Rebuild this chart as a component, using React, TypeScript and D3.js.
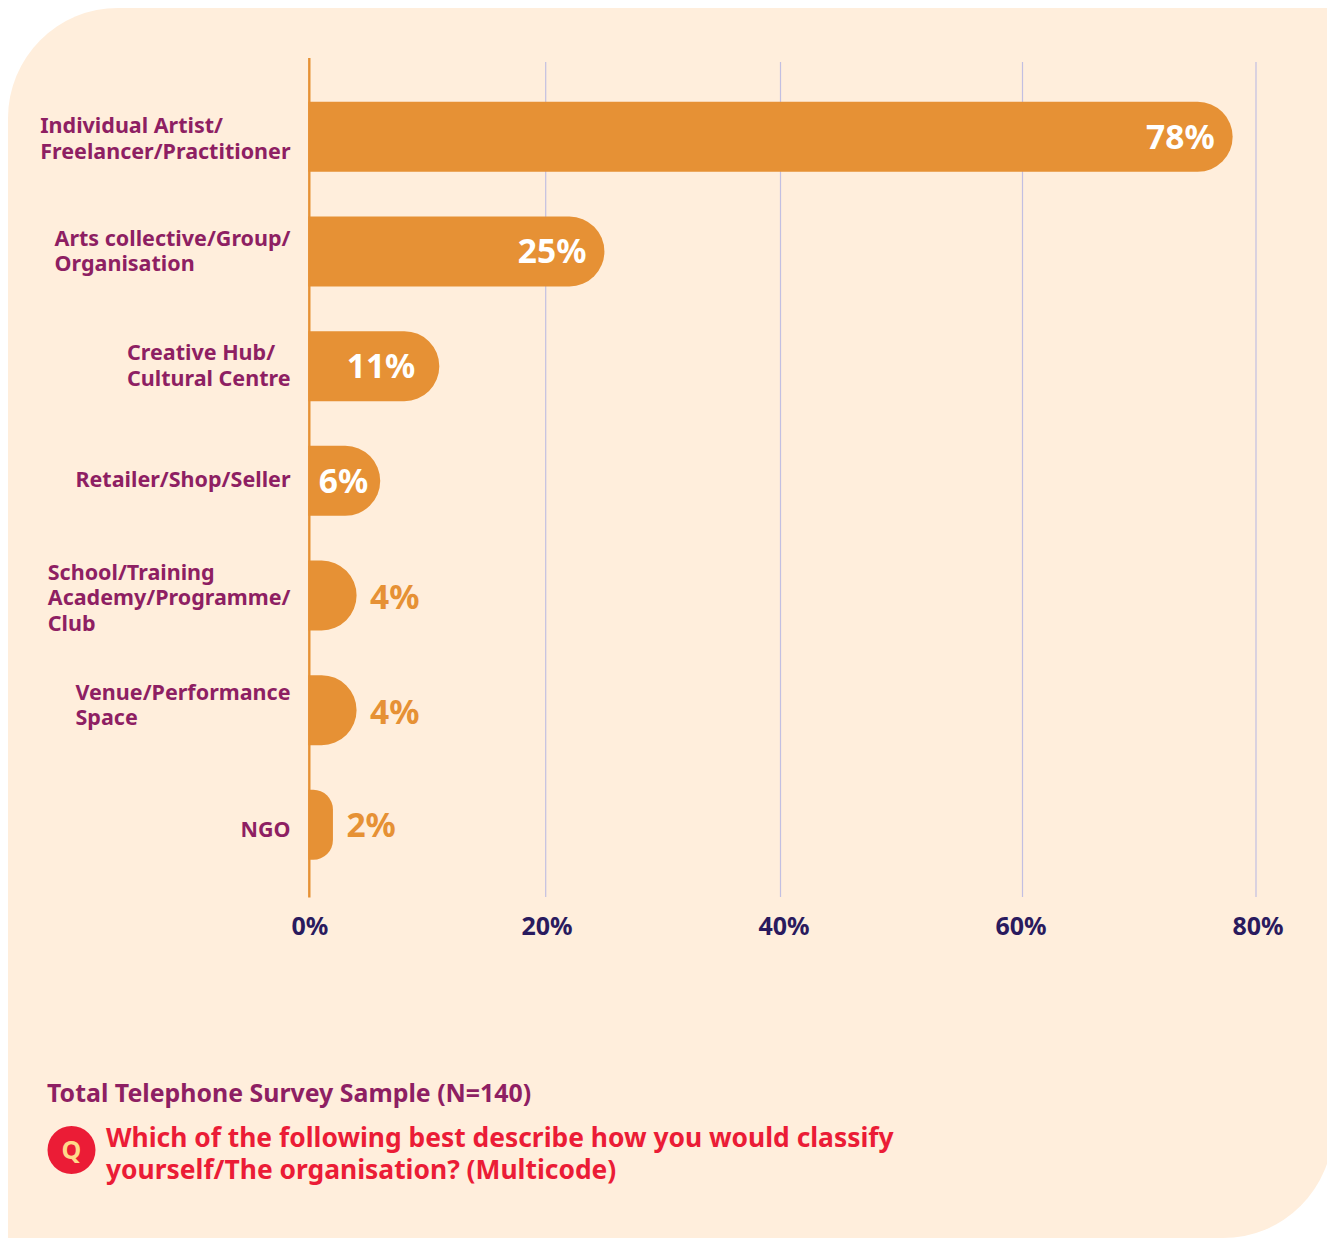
import React, { useEffect, useRef } from "react";
import * as d3 from "d3";

const categories = [
  "Individual Artist/|Freelancer/Practitioner",
  "Arts collective/Group/|Organisation",
  "Creative Hub/|Cultural Centre",
  "Retailer/Shop/Seller",
  "School/Training|Academy/Programme/|Club",
  "Venue/Performance|Space",
  "NGO",
];
const shares = [78, 25, 11, 6, 4, 4, 2];
const axisTicks = [0, 20, 40, 60, 80];
const sampleNote = "Total Telephone Survey Sample (N=140)";
const questionLines = [
  "Which of the following best describe how you would classify",
  "yourself/The organisation? (Multicode)",
];

const WIDTH = 1327;
const HEIGHT = 1238;
const FONT = "'Noto Sans', sans-serif";
const PANEL = "#FFEEDC";
const BAR = "#E69135";
const PLUM = "#8E1F63";
const NAVY = "#2A1A5E";
const RED = "#EB1C36";
const GRID = "#C2BFE2";

// Baseline corrections for the category labels, row by row.
const labelShift = [1, -1, -1, -2, 2, -5.5, 4];

function barPath(x0: number, x1: number, y: number, h: number) {
  const w = x1 - x0;
  const r = Math.min(h / 2, w * 0.8);
  return `M${x0},${y}H${x1 - r}A${r},${r} 0 0 1 ${x1},${y + r}V${y + h - r}A${r},${r} 0 0 1 ${x1 - r},${y + h}H${x0}Z`;
}

export default function App() {
  const ref = useRef<SVGSVGElement>(null);

  useEffect(() => {
    const svg = d3.select(ref.current);
    svg.selectAll("*").remove();

    // The gridlines are hand-placed on the artboard, so the axis is piecewise between ticks.
    const x = d3.scaleLinear().domain(axisTicks).range([309.3, 545.7, 780.5, 1022.5, 1256]);
    // Tick labels sit on their own even spacing.
    const tickX = d3.scaleLinear().domain([0, 80]).range([310, 1258]);
    const y = d3.scaleBand<number>().domain(d3.range(categories.length)).range([101.8, 859.8]).paddingInner(0.3895);
    const band = y.bandwidth();

    // Panel: rounded at the top-left and bottom-right only, running past the right edge.
    svg.append("path")
      .attr("fill", PANEL)
      .attr("d", `M8,118A110,110 0 0 1 118,8H1333V1128A110,110 0 0 1 1223,1238H8Z`);

    // Vertical gridlines
    svg.append("g").selectAll("line").data(axisTicks.slice(1)).join("line")
      .attr("x1", (d) => x(d)).attr("x2", (d) => x(d))
      .attr("y1", 62).attr("y2", 897)
      .attr("stroke", GRID).attr("stroke-width", 1.2);

    // Bars
    svg.append("g").selectAll("path").data(shares).join("path")
      .attr("fill", BAR)
      .attr("d", (d, i) => barPath(x(0) - 1, x(d), y(i)!, band));

    // Zero axis
    svg.append("line")
      .attr("x1", x(0)).attr("x2", x(0)).attr("y1", 58).attr("y2", 897.5)
      .attr("stroke", BAR).attr("stroke-width", 2.4);

    // Axis tick labels
    svg.append("g").selectAll("text").data(axisTicks).join("text")
      .attr("x", (d) => tickX(d))
      .attr("y", 935)
      .attr("text-anchor", "middle")
      .attr("font-family", FONT).attr("font-weight", 700).attr("font-size", 25)
      .attr("fill", NAVY)
      .text((d) => `${d}%`);

    // Share labels: inside the bar when it is long enough, otherwise just past its end
    const insideInset = [18, 18, 24, 12];
    svg.append("g").selectAll("text").data(shares).join("text")
      .attr("x", (d, i) => (i < insideInset.length ? x(d) - insideInset[i] : x(d) + 13.5))
      .attr("y", (d, i) => y(i)! + band / 2 + (i < insideInset.length ? 12 : i === 6 ? 12.5 : 14))
      .attr("text-anchor", (d, i) => (i < insideInset.length ? "end" : "start"))
      .attr("font-family", FONT).attr("font-weight", 700).attr("font-size", 33.5)
      .attr("fill", (d, i) => (i < insideInset.length ? "#FFFFFF" : BAR))
      .text((d) => `${d}%`);

    // Category labels: lines start flush, with the block set against the axis
    const labels = svg.append("g").selectAll("text").data(categories).join("text")
      .attr("font-family", FONT).attr("font-weight", 700).attr("font-size", 21.5)
      .attr("fill", PLUM);
    labels.each(function (label, i) {
      const lines = label.split("|");
      const mid = y(i)! + band / 2;
      const top = mid + 8 + labelShift[i] - ((lines.length - 1) * 25.5) / 2;
      const node = d3.select(this);
      node.selectAll("tspan").data(lines).join("tspan")
        .attr("dy", (_, j) => (j === 0 ? 0 : 25.5))
        .text((l) => l);
      node.attr("y", top);
      const spans = node.selectAll<SVGTSpanElement, string>("tspan");
      const widest = d3.max(spans.nodes(), (n) => n.getComputedTextLength()) ?? 0;
      spans.attr("x", 290.5 - widest);
    });

    // Footer
    svg.append("text")
      .attr("x", 47).attr("y", 1102)
      .attr("font-family", FONT).attr("font-weight", 700).attr("font-size", 24.9)
      .attr("fill", PLUM)
      .text(sampleNote);

    svg.append("circle").attr("cx", 71.5).attr("cy", 1150).attr("r", 24).attr("fill", RED);
    svg.append("text")
      .attr("x", 71.5).attr("y", 1159)
      .attr("text-anchor", "middle")
      .attr("font-family", FONT).attr("font-weight", 700).attr("font-size", 25)
      .attr("fill", "#FFD98A")
      .text("Q");

    svg.append("g").selectAll("text").data(questionLines).join("text")
      .attr("x", 106).attr("y", (_, i) => 1147 + i * 32)
      .attr("font-family", FONT).attr("font-weight", 700).attr("font-size", 26.4)
      .attr("fill", RED)
      .text((d) => d);
  }, []);

  return (
    <div style={{ position: "absolute", left: 0, top: 0, width: WIDTH, height: HEIGHT, overflow: "hidden", background: "#fff" }}>
      <svg ref={ref} width={WIDTH} height={HEIGHT} style={{ display: "block" }} />
    </div>
  );
}
